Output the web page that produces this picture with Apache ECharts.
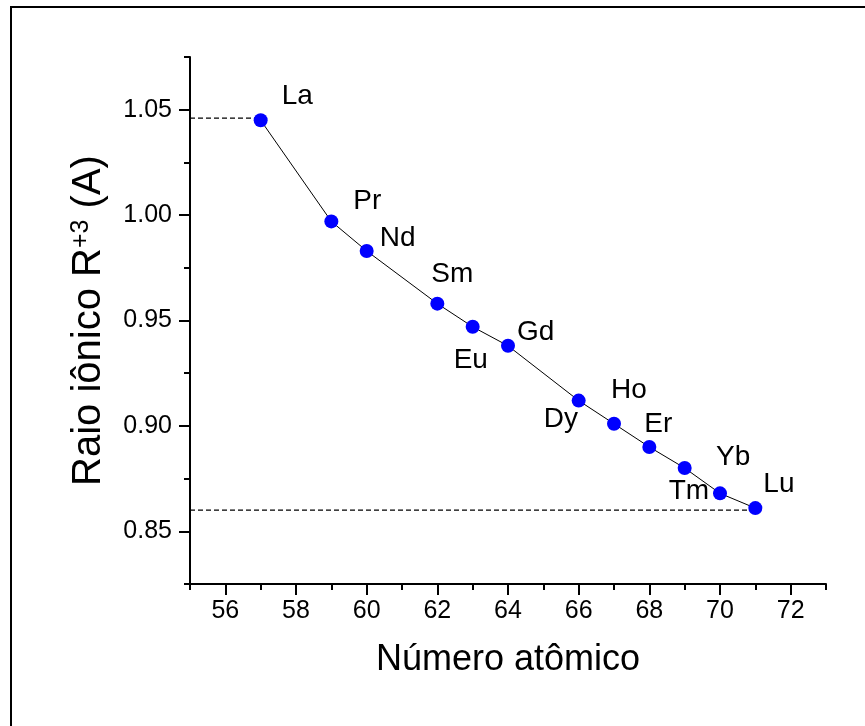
<!DOCTYPE html>
<html>
<head>
<meta charset="utf-8">
<title>Raio iônico R+3</title>
<script src="https://cdn.jsdelivr.net/npm/echarts@6/dist/echarts.min.js"></script>
<style>
  html, body { margin: 0; padding: 0; background: #fff; }
  #chart { width: 865px; height: 726px; }
</style>
</head>
<body>
<div id="chart"></div>
<script>
// dados
const elements = ['La', 'Pr', 'Nd', 'Sm', 'Eu', 'Gd', 'Dy', 'Ho', 'Er', 'Tm', 'Yb', 'Lu'];
const atomicNumbers = [57, 59, 60, 62, 63, 64, 66, 67, 68, 69, 70, 71];
const ionicRadius = [1.045, 0.997, 0.983, 0.958, 0.947, 0.938, 0.912, 0.901, 0.890, 0.880, 0.868, 0.861];

// linhas tracejadas de referência (La e Lu)
const laRefLine = [[55, 1.046], [57, 1.046]];
const luRefLine = [[55, 0.86], [71, 0.86]];

// ticks
const xMajorTicks = [56, 58, 60, 62, 64, 66, 68, 70, 72];
const xMinorTicks = [55, 57, 59, 61, 63, 65, 67, 69, 71, 73];
const yMajorTicks = [0.85, 0.90, 0.95, 1.00, 1.05];
const yMinorTicks = [0.825, 0.875, 0.925, 0.975, 1.025, 1.075];

// deslocamento dos rótulos (px, borda esquerda / centro vertical relativo ao ponto)
const labelOffsets = [[21, -24], [22, -20], [13, -13], [-6, -29], [-19, 33], [9, -14],
                      [-35, 19], [-3, -34], [-5, -23], [-16, 23], [-4, -36], [8, -24]];

const FONT = "'Liberation Sans', Arial, sans-serif";
const SYMBOL = 14;

const chart = echarts.init(document.getElementById('chart'), null, { renderer: 'canvas' });

const gridBox = { left: 190, right: 39, top: 57, bottom: 142, containLabel: false };
const X_MIN = 55, X_MAX = 73, Y_MIN = 0.825, Y_MAX = 1.075;

const points = atomicNumbers.map((x, i) => ({
    value: [x, ionicRadius[i]],
    name: elements[i],
    label: {
        show: true,
        formatter: elements[i],
        position: [labelOffsets[i][0] + SYMBOL / 2, labelOffsets[i][1] + SYMBOL / 2],
        align: 'left',
        verticalAlign: 'middle'
    }
}));

const option = {
    backgroundColor: '#fff',
    animation: false,
    textStyle: { fontFamily: FONT },
    graphic: [{
        type: 'rect',
        shape: { x: 11, y: 7, width: 1000, height: 1000 },
        style: { fill: 'none', stroke: '#000', lineWidth: 2 },
        silent: true
    }],
    grid: [gridBox, Object.assign({}, gridBox)],
    xAxis: [{
        gridIndex: 0, type: 'value', min: X_MIN, max: X_MAX,
        name: 'Número atômico', nameLocation: 'middle', nameGap: 58,
        nameTextStyle: { fontSize: 36, color: '#000', fontFamily: FONT },
        axisLine: { show: true, onZero: false, lineStyle: { color: '#000', width: 2 } },
        axisTick: { show: true, inside: false, length: 11, customValues: xMajorTicks, lineStyle: { color: '#000', width: 2 } },
        axisLabel: { customValues: xMajorTicks, fontSize: 25, color: '#000', margin: 15, fontFamily: FONT },
        splitLine: { show: false }
    }, {
        gridIndex: 1, type: 'value', min: X_MIN, max: X_MAX,
        axisLine: { show: false, onZero: false },
        axisTick: { show: true, inside: false, length: 6, customValues: xMinorTicks, lineStyle: { color: '#000', width: 2 } },
        axisLabel: { show: false },
        splitLine: { show: false }
    }],
    yAxis: [{
        gridIndex: 0, type: 'value', min: Y_MIN, max: Y_MAX,
        name: 'Raio iônico R{sup|+3} (A)', nameLocation: 'middle', nameGap: 81, nameRotate: 90,
        nameTextStyle: {
            fontSize: 40, color: '#000', fontFamily: FONT,
            rich: { sup: { fontSize: 25, color: '#000', fontFamily: FONT, verticalAlign: 'top', lineHeight: 24 } }
        },
        axisLine: { show: true, onZero: false, lineStyle: { color: '#000', width: 2 } },
        axisTick: { show: true, inside: false, length: 11, customValues: yMajorTicks, lineStyle: { color: '#000', width: 2 } },
        axisLabel: { customValues: yMajorTicks, fontSize: 25, color: '#000', margin: 18, fontFamily: FONT,
                     formatter: v => v.toFixed(2) },
        splitLine: { show: false }
    }, {
        gridIndex: 1, type: 'value', min: Y_MIN, max: Y_MAX,
        axisLine: { show: false, onZero: false },
        axisTick: { show: true, inside: false, length: 6, customValues: yMinorTicks, lineStyle: { color: '#000', width: 2 } },
        axisLabel: { show: false },
        splitLine: { show: false }
    }],
    series: [{
        name: 'La ref', type: 'line', xAxisIndex: 0, yAxisIndex: 0,
        data: laRefLine, symbol: 'none', silent: true,
        lineStyle: { color: '#000', width: 1.2, type: [5, 3] }
    }, {
        name: 'Lu ref', type: 'line', xAxisIndex: 0, yAxisIndex: 0,
        data: luRefLine, symbol: 'none', silent: true,
        lineStyle: { color: '#000', width: 1.2, type: [5, 3] }
    }, {
        name: 'Raio iônico', type: 'line', xAxisIndex: 0, yAxisIndex: 0,
        data: points,
        symbol: 'circle', symbolSize: SYMBOL,
        itemStyle: { color: '#0000ff', borderWidth: 0 },
        lineStyle: { color: '#000', width: 1 },
        label: { show: true, fontSize: 28, color: '#000', fontFamily: FONT },
        z: 3
    }]
};

chart.setOption(option);
window.addEventListener('resize', () => chart.resize());
</script>
</body>
</html>
